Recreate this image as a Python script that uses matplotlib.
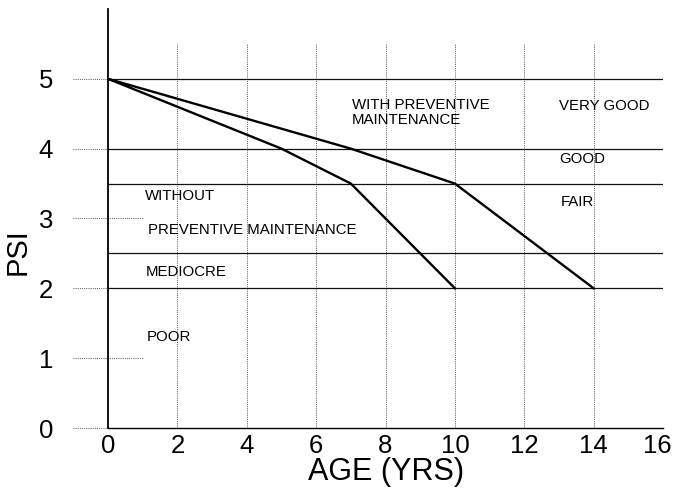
import matplotlib
matplotlib.use("Agg")
import matplotlib.pyplot as plt
import matplotlib.transforms as mtransforms

# Data
age_with = [0, 7, 10, 14]
psi_with = [5, 4, 3.5, 2]
age_without = [0, 5, 7, 10]
psi_without = [5, 4, 3.5, 2]
band_levels = [5, 4, 3.5, 2.5, 2]
x_ticks = [0, 2, 4, 6, 8, 10, 12, 14, 16]
y_ticks = [0, 1, 2, 3, 4, 5]
labels = [
    ("WITH PREVENTIVE\nMAINTENANCE", 7.03, 4.72, "top"),
    ("VERY GOOD", 13.0, 4.61, "center"),
    ("GOOD", 13.0, 3.85, "center"),
    ("FAIR", 13.05, 3.23, "center"),
    ("WITHOUT", 1.07, 3.32, "center"),
    ("PREVENTIVE MAINTENANCE", 1.15, 2.84, "center"),
    ("MEDIOCRE", 1.09, 2.24, "center"),
    ("POOR", 1.13, 1.31, "center"),
]

plt.rcParams['font.family'] = ['Liberation Sans', 'DejaVu Sans']

fig = plt.figure(figsize=(6.73, 4.91), dpi=100)
ax = fig.add_axes([0.1605, 0.1283, 0.8247, 0.8534])
ax.set_xlim(0, 16)
ax.set_ylim(0, 6)

# vertical dotted grid lines
for xv in x_ticks[1:]:
    ax.plot([xv, xv], [0, 5.5], color='#555555', lw=0.7, ls=(0, (1, 1.2)), zorder=1)

# horizontal band lines
for yv in band_levels:
    ax.plot([0, 16], [yv, yv], color='#111111', lw=0.9, zorder=2)

# dotted y "ticks" extending both sides of axis
for yv in y_ticks:
    ax.plot([-1.0, 1.0 if yv in (1, 3) else 0], [yv, yv], color='#555555', lw=0.7,
            ls=(0, (1, 1.2)), clip_on=False, zorder=1)

# x axis line
ax.plot([0, 16], [0, 0], color='black', lw=1.0, clip_on=False, zorder=3)

# curves
ax.plot(age_with, psi_with, color='black', lw=1.7, zorder=4)
ax.plot(age_without, psi_without, color='black', lw=1.7, zorder=4)

for txt, x, y, va in labels:
    ax.text(x, y, txt, fontsize=10.8, ha='left', va=va, linespacing=1.05, color='black')

for s in ['top', 'right', 'bottom']:
    ax.spines[s].set_visible(False)
ax.spines['left'].set_linewidth(1.3)
ax.spines['left'].set_color('black')

ax.set_xticks(x_ticks)
ax.set_yticks(y_ticks)
ax.tick_params(axis='both', length=0, labelsize=18.5)
ax.tick_params(axis='x', pad=4)
ax.tick_params(axis='y', pad=39.6)

# shift last x tick label left so it stays within the figure
last = ax.get_xticklabels()[-1]
last.set_transform(last.get_transform() + mtransforms.ScaledTranslation(-6/100, 0, fig.dpi_scale_trans))

ax.set_xlabel("AGE (YRS)", fontsize=22, labelpad=0)
ax.set_ylabel("PSI", fontsize=21)
ax.xaxis.set_label_coords(0.501, -0.14)
ax.xaxis.label.set_va('bottom')
ax.yaxis.set_label_coords(-0.137, 0.42)

fig.savefig("out.png", dpi=100)
